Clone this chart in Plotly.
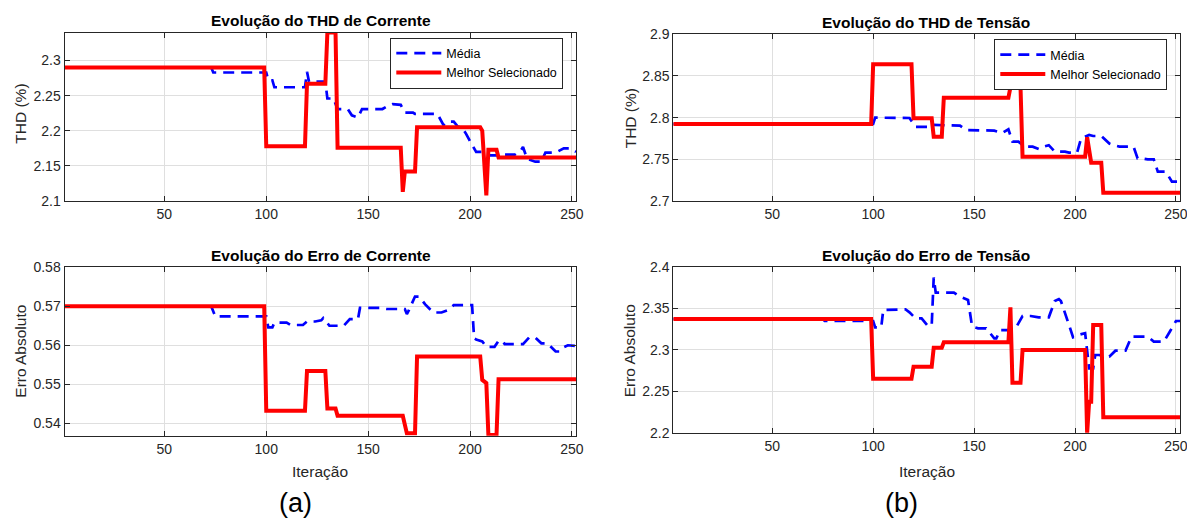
import plotly.graph_objects as go

W, H = 1187, 520

# ---------------- data (breakpoints) ----------------
# THD de Corrente
thd_i_best_x = [1, 99, 100, 119, 120, 129, 130, 134, 135, 166, 167, 168, 173, 174, 205, 206, 208, 209, 213, 214, 252]
thd_i_best_y = [2.29, 2.29, 2.178, 2.178, 2.267, 2.267, 2.34, 2.34, 2.176, 2.176, 2.113, 2.142, 2.142, 2.205, 2.205, 2.2, 2.108, 2.173, 2.173, 2.162, 2.162]
thd_i_mean_x = [1, 73, 74, 100, 101, 103, 104, 119, 120, 121, 129, 130, 133, 135, 140, 142, 145, 147, 157, 160, 162, 166, 168, 172, 173, 184, 187, 189, 192, 194, 196, 198, 201, 203, 206, 208, 214, 216, 222, 225, 226, 228, 232, 235, 237, 242, 246, 249, 252]
thd_i_mean_y = [2.29, 2.29, 2.283, 2.283, 2.272, 2.272, 2.262, 2.262, 2.284, 2.27, 2.27, 2.246, 2.246, 2.231, 2.231, 2.222, 2.219, 2.231, 2.231, 2.236, 2.238, 2.237, 2.226, 2.226, 2.224, 2.224, 2.208, 2.213, 2.213, 2.206, 2.205, 2.196, 2.18, 2.17, 2.17, 2.165, 2.165, 2.166, 2.166, 2.172, 2.177, 2.16, 2.156, 2.156, 2.169, 2.169, 2.175, 2.175, 2.17]

# Erro de Corrente
err_i_best_x = [1, 99, 100, 119, 120, 129, 130, 134, 135, 167, 169, 173, 174, 205, 206, 208, 209, 213, 214, 252]
err_i_best_y = [0.57, 0.57, 0.5432, 0.5432, 0.5534, 0.5534, 0.5438, 0.5438, 0.5419, 0.5419, 0.5374, 0.5374, 0.5571, 0.5571, 0.5511, 0.5503, 0.537, 0.537, 0.5513, 0.5513]
err_i_mean_x = [1, 73, 75, 100, 101, 103, 104, 110, 112, 118, 120, 124, 127, 128, 129, 131, 138, 141, 145, 146, 156, 159, 168, 169, 170, 173, 175, 178, 182, 186, 189, 192, 201, 202, 203, 206, 208, 212, 214, 216, 217, 226, 229, 232, 235, 238, 242, 244, 246, 248, 252]
err_i_mean_y = [0.57, 0.57, 0.5674, 0.5674, 0.5646, 0.5646, 0.5658, 0.5658, 0.5652, 0.5652, 0.5661, 0.5661, 0.5664, 0.567, 0.5664, 0.565, 0.565, 0.5667, 0.5667, 0.5696, 0.5696, 0.5693, 0.5693, 0.568, 0.569, 0.5725, 0.5725, 0.5705, 0.5684, 0.5684, 0.569, 0.5703, 0.5703, 0.5618, 0.5615, 0.561, 0.5596, 0.5596, 0.5611, 0.5611, 0.5603, 0.5603, 0.562, 0.562, 0.5605, 0.5605, 0.5584, 0.5584, 0.5595, 0.56, 0.5598]

# THD de Tensão
thd_v_best_x = [1, 99, 100, 119, 120, 129, 130, 134, 135, 167, 168, 173, 174, 205, 206, 208, 213, 214, 252]
thd_v_best_y = [2.7924, 2.7924, 2.864, 2.864, 2.7992, 2.7992, 2.7772, 2.7772, 2.824, 2.824, 2.8364, 2.8364, 2.7532, 2.7532, 2.7764, 2.746, 2.746, 2.71, 2.71]
thd_v_mean_x = [1, 100, 101, 118, 121, 128, 130, 136, 140, 143, 146, 152, 156, 160, 164, 167, 169, 172, 175, 179, 182, 184, 187, 190, 195, 197, 201, 203, 207, 209, 213, 217, 219, 222, 229, 231, 233, 236, 239, 241, 245, 248, 252]
thd_v_mean_y = [2.7924, 2.7924, 2.8, 2.7996, 2.789, 2.789, 2.7912, 2.7912, 2.7904, 2.7904, 2.7852, 2.7852, 2.7844, 2.7844, 2.7816, 2.786, 2.7712, 2.7712, 2.7652, 2.7652, 2.7624, 2.765, 2.767, 2.7592, 2.7592, 2.758, 2.758, 2.775, 2.7792, 2.778, 2.778, 2.769, 2.767, 2.7652, 2.7652, 2.7512, 2.7512, 2.75, 2.75, 2.7352, 2.7352, 2.7232, 2.7232]

# Erro de Tensão
err_v_best_x = [1, 99, 100, 119, 120, 129, 130, 134, 135, 167, 168, 169, 173, 174, 205, 206, 207, 208, 209, 213, 214, 252]
err_v_best_y = [2.337, 2.337, 2.265, 2.265, 2.2795, 2.2795, 2.3024, 2.3024, 2.3089, 2.3089, 2.351, 2.2602, 2.2602, 2.2996, 2.2996, 2.1993, 2.2373, 2.2373, 2.3298, 2.3298, 2.2185, 2.2185]
err_v_mean_x = [1, 75, 76, 100, 101, 104, 105, 116, 118, 121, 124, 127, 129, 130, 131, 136, 140, 143, 147, 149, 152, 156, 160, 161, 163, 167, 169, 171, 174, 178, 182, 187, 190, 192, 193, 197, 199, 202, 205, 207, 209, 210, 212, 215, 217, 220, 225, 228, 236, 239, 244, 247, 250, 252]
err_v_mean_y = [2.337, 2.337, 2.3346, 2.3346, 2.327, 2.327, 2.3478, 2.3487, 2.345, 2.3378, 2.3378, 2.329, 2.329, 2.387, 2.3687, 2.3687, 2.3687, 2.364, 2.36, 2.328, 2.3258, 2.3258, 2.3137, 2.3137, 2.3237, 2.3237, 2.3277, 2.3277, 2.3406, 2.3406, 2.339, 2.339, 2.3587, 2.361, 2.3587, 2.33, 2.315, 2.318, 2.32, 2.2776, 2.2776, 2.2936, 2.2936, 2.2915, 2.2915, 2.2988, 2.2988, 2.3157, 2.3157, 2.3097, 2.3097, 2.322, 2.3346, 2.3346]

x_ticks = [50, 100, 150, 200, 250]
x_ticklabels = ["50", "100", "150", "200", "250"]
thd_i_ticks = [2.1, 2.15, 2.2, 2.25, 2.3]
thd_i_ticklabels = ["2.1", "2.15", "2.2", "2.25", "2.3"]
err_i_ticks = [0.54, 0.55, 0.56, 0.57, 0.58]
err_i_ticklabels = ["0.54", "0.55", "0.56", "0.57", "0.58"]
thd_v_ticks = [2.7, 2.75, 2.8, 2.85, 2.9]
thd_v_ticklabels = ["2.7", "2.75", "2.8", "2.85", "2.9"]
err_v_ticks = [2.2, 2.25, 2.3, 2.35, 2.4]
err_v_ticklabels = ["2.2", "2.25", "2.3", "2.35", "2.4"]

titles = ["Evolução do THD de Corrente", "Evolução do THD de Tensão",
          "Evolução do Erro de Corrente", "Evolução do Erro de Tensão"]
ytitles = ["THD (%)", "THD (%)", "Erro Absoluto", "Erro Absoluto"]
xtitle = "Iteração"
series_names = ["Média", "Melhor Selecionado"]
panel_labels = ["(a)", "(b)"]

# ---------------- styling / layout ----------------
FONT = "Liberation Sans, Arial, sans-serif"
AX = "#262626"
GRID = "#dfdfdf"
BLUE = "#0000ff"
RED = "#ff0000"

def px_x(p):
    return p / W

def px_y(p):
    return 1 - p / H

# pixel boxes: (left, right, top, bottom)
boxes = {
    "tl": (64.5, 576, 32.5, 201),
    "tr": (673.3, 1180, 34.3, 201),
    "bl": (64.5, 576, 267.3, 435.7),
    "br": (673.3, 1180, 266.7, 432.7),
}

fig = go.Figure()

panels = [
    ("tl", "x", "y", thd_i_mean_x, thd_i_mean_y, thd_i_best_x, thd_i_best_y, "legend"),
    ("tr", "x2", "y2", thd_v_mean_x, thd_v_mean_y, thd_v_best_x, thd_v_best_y, "legend2"),
    ("bl", "x3", "y3", err_i_mean_x, err_i_mean_y, err_i_best_x, err_i_best_y, None),
    ("br", "x4", "y4", err_v_mean_x, err_v_mean_y, err_v_best_x, err_v_best_y, None),
]

for key, xa, ya, mx, my, bx, by, leg in panels:
    fig.add_trace(go.Scatter(
        x=mx, y=my, mode="lines", name=series_names[0], xaxis=xa, yaxis=ya,
        line=dict(color=BLUE, width=2.7, dash="11px,7px"),
        showlegend=leg is not None, legend=leg or "legend"))
    fig.add_trace(go.Scatter(
        x=bx, y=by, mode="lines", name=series_names[1], xaxis=xa, yaxis=ya,
        line=dict(color=RED, width=4),
        showlegend=leg is not None, legend=leg or "legend"))

def axis_common():
    return dict(showline=True, linecolor=AX, linewidth=1, mirror="ticks",
                ticks="inside", ticklen=5, tickcolor=AX, tickwidth=1,
                showgrid=True, gridcolor=GRID, gridwidth=1, zeroline=False,
                automargin=False, ticklabeloverflow="allow",
                tickfont=dict(family=FONT, size=14, color=AX))

yspecs = {
    "tl": ([2.1, 2.34], thd_i_ticks, thd_i_ticklabels),
    "tr": ([2.7, 2.9], thd_v_ticks, thd_v_ticklabels),
    "bl": ([0.5368, 0.58], err_i_ticks, err_i_ticklabels),
    "br": ([2.2, 2.4], err_v_ticks, err_v_ticklabels),
}
names = {"tl": ("xaxis", "yaxis", "y", "x"), "tr": ("xaxis2", "yaxis2", "y2", "x2"),
         "bl": ("xaxis3", "yaxis3", "y3", "x3"), "br": ("xaxis4", "yaxis4", "y4", "x4")}

layout = {}
for key, (xn, yn, yid, xid) in names.items():
    l, r, t, b = boxes[key]
    xa = axis_common()
    xa.update(domain=[px_x(l), px_x(r)], range=[1, 252], anchor=yid,
              tickvals=x_ticks, ticktext=x_ticklabels)
    ya = axis_common()
    rng, tv, tt = yspecs[key]
    ya.update(domain=[px_y(b), px_y(t)], range=rng, anchor=xid,
              tickvals=tv, ticktext=tt)
    layout[xn] = xa
    layout[yn] = ya

fig.update_layout(**layout)

legend_style = dict(font=dict(family=FONT, size=12.5, color="#000000"),
                    bgcolor="#ffffff", bordercolor=AX, borderwidth=1,
                    xanchor="right", yanchor="top", xref="paper", yref="paper",
                    tracegroupgap=0, itemwidth=45)
fig.update_layout(
    legend=dict(x=px_x(563.3), y=px_y(37.5), **legend_style),
    legend2=dict(x=px_x(1167.3), y=px_y(39.0), **legend_style),
)

ann = []
title_pos = [(320.5, 20.8), (925.5, 22.8), (320.5, 255.3), (925.5, 255.0)]
for txt, (cx, cy) in zip(titles, title_pos):
    ann.append(dict(text="<b>%s</b>" % txt, x=px_x(cx), y=px_y(cy), xref="paper", yref="paper",
                    showarrow=False, xanchor="center", yanchor="middle",
                    font=dict(family=FONT, size=15.5, color="#000000")))
ytitle_pos = [(21, 113.7), (630, 118.3), (21, 351.7), (629.5, 350.8)]
for txt, (cx, cy) in zip(ytitles, ytitle_pos):
    ann.append(dict(text=txt, x=px_x(cx), y=px_y(cy), xref="paper", yref="paper",
                    showarrow=False, xanchor="center", yanchor="middle", textangle=-90,
                    font=dict(family=FONT, size=15.5, color=AX)))
for cx in (320.3, 926.7):
    ann.append(dict(text=xtitle, x=px_x(cx), y=px_y(471.7), xref="paper", yref="paper",
                    showarrow=False, xanchor="center", yanchor="middle",
                    font=dict(family=FONT, size=15.5, color=AX)))
for txt, cx in zip(panel_labels, (295, 901.7)):
    ann.append(dict(text=txt, x=px_x(cx), y=0, xref="paper", yref="paper",
                    showarrow=False, xanchor="center", yanchor="bottom",
                    font=dict(family=FONT, size=27, color="#000000")))

fig.update_layout(
    annotations=ann,
    width=W, height=H, autosize=False,
    margin=dict(l=0, r=0, t=0, b=0, pad=0, autoexpand=False),
    paper_bgcolor="#ffffff", plot_bgcolor="#ffffff",
    font=dict(family=FONT, color=AX),
)

fig.write_html(
    "out.html",
    config={"displayModeBar": False},
    post_script="document.body.style.margin='0px';document.body.style.padding='0px';",
)
